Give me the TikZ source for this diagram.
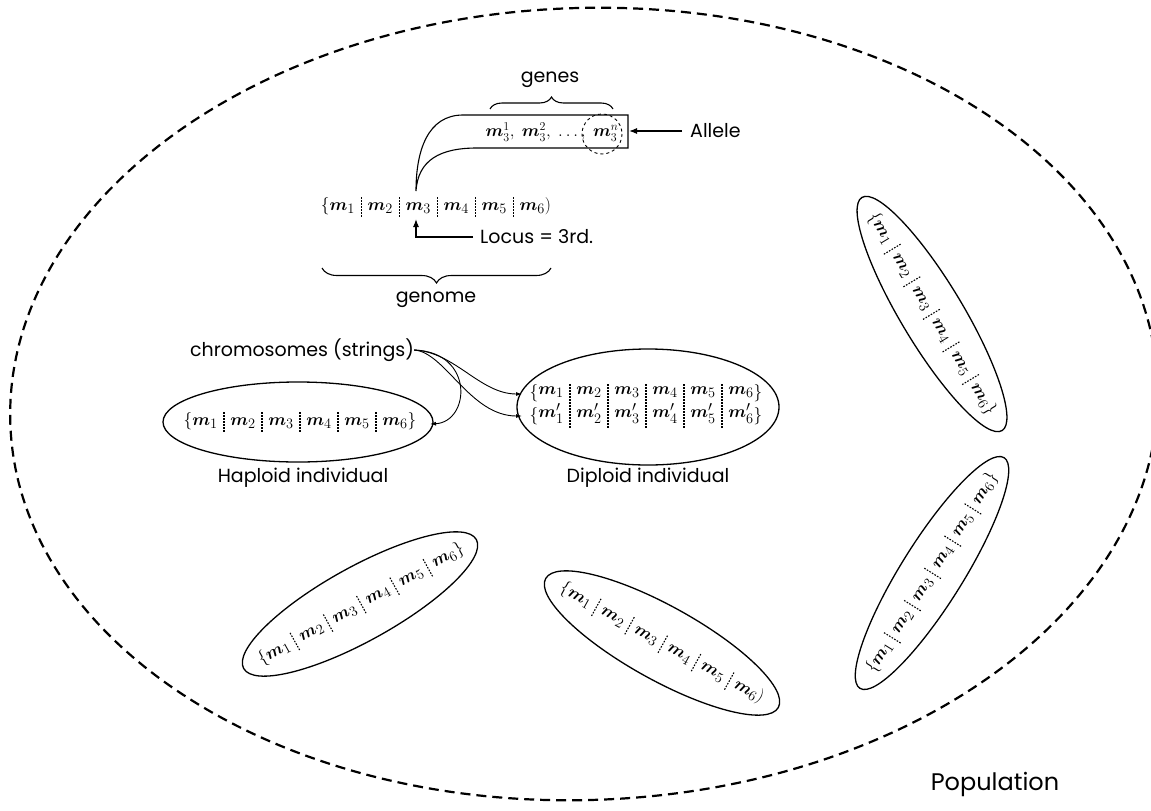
\documentclass[tikz,border=0pt]{standalone}
\usepackage{amsmath,bm}
\usepackage[no-math]{fontspec}
\setmainfont{Poppins}
\usetikzlibrary{shapes.geometric,arrows.meta,decorations.pathreplacing}

% gene symbol
\newcommand\gm[1]{\boldsymbol{m}_{#1}}
% dotted vertical rule of given height
\newcommand\dotrule[1]{\vbox to #1{\cleaders\vbox to 3pt{\vss\hrule width 1.1pt height 1.6pt}\vfill}}
\newcommand\dsep{\mskip6mu\vcenter{\hbox{\dotrule{22pt}}}\mskip6mu}
\newcommand\ddsep{\mskip6mu\vcenter{\hbox{\dotrule{46pt}}}\mskip6mu}
% one chromosome string, #1 = closing delimiter
\newcommand\chromrow[1]{$\{\gm1\dsep\gm2\dsep\gm3\dsep\gm4\dsep\gm5\dsep\gm6#1$}
% two stacked strings (diploid)
\newcommand\dcol[1]{\vcenter{\halign{\hfil##\hfil\cr$\gm{#1}$\cr\noalign{\kern3pt}$\boldsymbol{m}'_{#1}$\cr}}}
\newcommand\dbr[1]{\vcenter{\halign{##\cr$#1$\cr\noalign{\kern3pt}$#1$\cr}}}

\tikzset{
  popline/.style={line width=2.2pt, dash pattern=on 10pt off 6pt},
  indiv/.style={draw, ellipse, line width=1.3pt, inner sep=0pt},
  chromtxt/.style={inner sep=0pt, font=\fontsize{19}{20}\selectfont},
  lbl/.style={inner sep=0pt, font=\fontsize{19}{22}\selectfont},
  link/.style={line width=0.9pt},
  arr/.style={line width=1.1pt, -{Latex[length=8pt,width=6pt]}},
  smallarr/.style={line width=0.9pt, -{Latex[length=6pt,width=4pt]}},
  brc/.style={decorate, decoration={brace, amplitude=#1}, line width=1.1pt}
}

\begin{document}
\begin{tikzpicture}[x=1pt,y=-1pt]
\useasboundingbox (0,0) rectangle (1151,811);

% population boundary
\draw[popline, rotate around={2:(584,404)}] (584,404) ellipse [x radius=574, y radius=396];
\node[lbl, font=\fontsize{24}{28}\selectfont] (pop) at (995,784) {Population};

% genome with its genes
\node[chromtxt] (genome) at (436,206) {\chromrow)};
\coordinate (m3top) at (416,191);
\coordinate (m3bot) at (416,219);
\coordinate (boxTL) at (463,115);
\coordinate (boxTR) at (628,115);
\coordinate (boxBR) at (628,148);
\coordinate (boxBL) at (477,148);
\coordinate (boxR) at (629,131);
\node[chromtxt, font=\fontsize{17}{20}\selectfont] (alleles) at (552,132)
  {$\gm3^1,\ \gm3^2,\ \ldots,\ \gm3^n$};
\draw[link, line width=1.1pt] (m3top) .. controls (416,150) and (428,115) .. (boxTL)
  -- (boxTR) -- (boxBR) -- (boxBL) .. controls (440,148) and (418,160) .. (m3top);
\draw[dashed, line width=0.9pt] (602,134) circle [radius=20];
\node[lbl, anchor=west] (allele) at (690,131) {Allele};
\draw[arr] ([xshift=-8pt]allele.west) -- (boxR);
\draw[brc=12] (490,109) -- (613,109);
\node[lbl] (genes) at (550,80) {genes};

\node[lbl, anchor=west] (locus) at (480,237) {Locus = 3rd.};
\draw[arr] ([xshift=-7pt]locus.west) -| (m3bot);

\draw[brc=15] (551,268) -- (322,268);
\node[lbl] (genomelbl) at (436,300) {genome};

% haploid and diploid individuals
\node[lbl] (chroms) at (302,350) {chromosomes (strings)};
\node[indiv, minimum width=270pt, minimum height=80pt] (hap) at (298,422) {};
\node[chromtxt] (haptxt) at (300,421) {\chromrow\}};
\node[lbl] (haplbl) at (303,478) {Haploid individual};

\node[indiv, minimum width=262pt, minimum height=116pt] (dip) at (648,407) {};
\node[chromtxt] (diptxt) at (646,405)
  {$\dbr\{\dcol1\ddsep\dcol2\ddsep\dcol3\ddsep\dcol4\ddsep\dcol5\ddsep\dcol6\dbr\}$};
\node[lbl] (diplbl) at (648,478) {Diploid individual};

\coordinate (hapend) at (430,424);
\coordinate (diprow1) at (522,394);
\coordinate (diprow2) at (522,416);
\draw[smallarr] (chroms.east) .. controls (475,352) and (470,422) .. (hapend);
\draw[smallarr] (chroms.east) .. controls (455,352) and (480,394) .. (diprow1);
\draw[smallarr] (chroms.east) .. controls (445,352) and (470,416) .. (diprow2);

% other members of the population
\node[indiv, minimum width=272pt, minimum height=62pt, rotate=-59] (ur) at (932,314) {};
\node[chromtxt, rotate=-59] (urtxt) at (932,314) {\chromrow\}};
\node[indiv, minimum width=272pt, minimum height=62pt, rotate=58] (lr) at (932,573) {};
\node[chromtxt, rotate=58] (lrtxt) at (932,573) {\chromrow\}};
\node[indiv, minimum width=266pt, minimum height=74pt, rotate=29] (bl) at (360,604) {};
\node[chromtxt, rotate=29] (bltxt) at (361,604) {\chromrow\}};
\node[indiv, minimum width=266pt, minimum height=74pt, rotate=-29] (bm) at (662,643) {};
\node[chromtxt, rotate=-29] (bmtxt) at (662,643) {\chromrow)};
\end{tikzpicture}
\end{document}
